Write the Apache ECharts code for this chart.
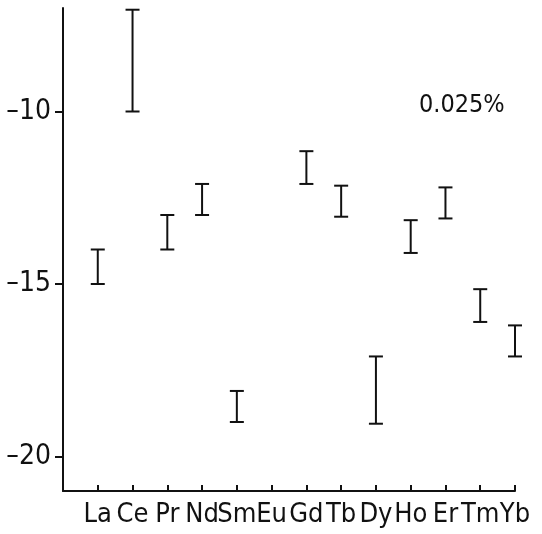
<!DOCTYPE html>
<html>
<head>
<meta charset="utf-8">
<script src="https://cdn.jsdelivr.net/npm/echarts@6/dist/echarts.min.js"></script>
<style>
  html, body { margin: 0; padding: 0; background: #fff; }
  #main { width: 542px; height: 534px; }
</style>
</head>
<body>
<div id="main"></div>
<script>
// element names along the x axis (positions 1..13)
var elements = ['La', 'Ce', 'Pr', 'Nd', 'Sm', 'Eu', 'Gd', 'Tb', 'Dy', 'Ho', 'Er', 'Tm', 'Yb'];
// lower and upper ends of each range (Eu has none)
var lowVals  = [-15, -10, -14, -13, -19, null, -12.1, -13.05, -19.05, -14.1, -13.1, -16.1, -17.1];
var highVals = [-14, -7.05, -13, -12.1, -18.1, null, -11.15, -12.15, -17.1, -13.15, -12.2, -15.15, -16.2];
var yTicks = [-20, -15, -10];
var note = '0.025%';

var ink = '#111';
var font = '"DejaVu Sans Condensed", "Liberation Sans Narrow", "Liberation Sans", sans-serif';

var data = [];
for (var i = 0; i < elements.length; i++) {
    if (lowVals[i] == null) continue;
    data.push([i + 1, lowVals[i], highVals[i]]);
}

var myChart = echarts.init(document.getElementById('main'));

var option = {
    animation: false,
    backgroundColor: '#fff',
    grid: { left: 63, right: 27, top: 8, bottom: 43 },
    xAxis: {
        type: 'value',
        min: 0,
        max: 13,
        interval: 1,
        splitLine: { show: false },
        axisLine: { onZero: false, lineStyle: { color: ink, width: 2 } },
        axisTick: { inside: true, length: 6, lineStyle: { color: ink, width: 2 } },
        axisLabel: {
            margin: 10,
            fontSize: 27,
            fontFamily: font,
            color: ink,
            showMaxLabel: true,
            hideOverlap: false,
            formatter: function (v) { return elements[v - 1] || ''; }
        }
    },
    yAxis: {
        type: 'value',
        min: -21,
        max: -7,
        splitLine: { show: false },
        axisLine: { show: true, onZero: false, lineStyle: { color: ink, width: 2 } },
        axisTick: { show: true, length: 8, customValues: yTicks, lineStyle: { color: ink, width: 2 } },
        axisLabel: {
            customValues: yTicks,
            margin: 12,
            fontSize: 28,
            fontFamily: font,
            color: ink,
            formatter: function (v) { return '\u2013' + Math.abs(v); }
        }
    },
    graphic: [{
        type: 'text',
        left: 419,
        top: 93,
        style: { text: note, fontSize: 25, fontFamily: font, fill: ink }
    }],
    series: [{
        type: 'custom',
        data: data,
        renderItem: function (params, api) {
            var x = api.value(0);
            var lo = api.coord([x, api.value(1)]);
            var hi = api.coord([x, api.value(2)]);
            var w = 7;
            var st = { stroke: ink, lineWidth: 2 };
            return {
                type: 'group',
                children: [
                    { type: 'line', shape: { x1: lo[0], y1: lo[1], x2: hi[0], y2: hi[1] }, style: st },
                    { type: 'line', shape: { x1: lo[0] - w, y1: lo[1], x2: lo[0] + w, y2: lo[1] }, style: st },
                    { type: 'line', shape: { x1: hi[0] - w, y1: hi[1], x2: hi[0] + w, y2: hi[1] }, style: st }
                ]
            };
        }
    }]
};

myChart.setOption(option, true);
</script>
</body>
</html>
